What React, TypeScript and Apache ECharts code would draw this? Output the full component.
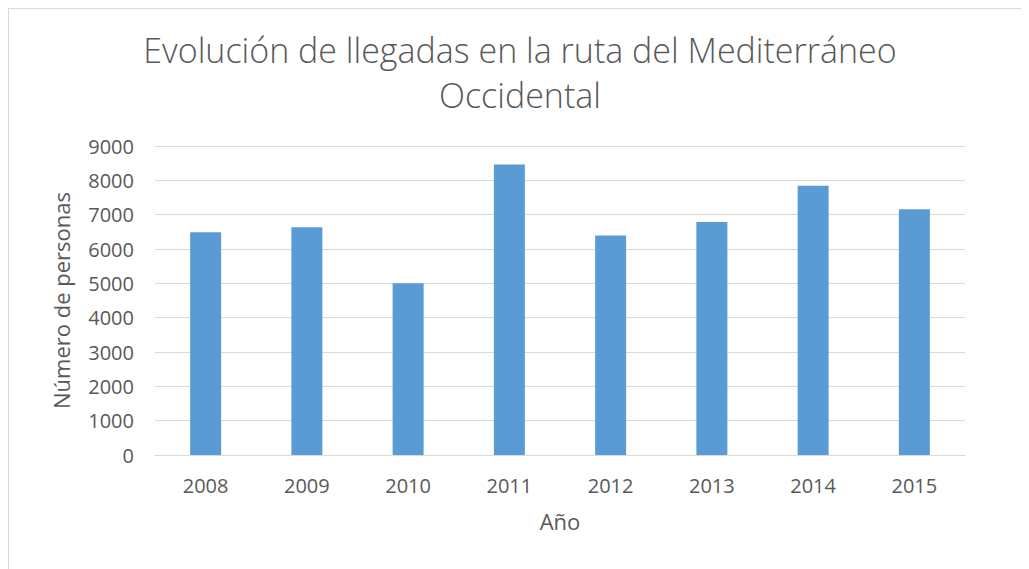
import React, { useEffect, useRef } from "react";
import * as echarts from "echarts";

const categories = ["2008", "2009", "2010", "2011", "2012", "2013", "2014", "2015"];
const arrivals = [6490, 6630, 5000, 8460, 6390, 6790, 7840, 7160];
const titleText = "Evolución de llegadas en la ruta del Mediterráneo\nOccidental";
const yAxisTitle = "Número de personas";
const xAxisTitle = "Año";

const FONT = "'Open Sans', 'Noto Sans', sans-serif";
const GREY_TEXT = "#595959";
const GRID_GREY = "#d9d9d9";

export default function App() {
  const ref = useRef<HTMLDivElement>(null);
  useEffect(() => {
    if (!ref.current) return;
    const chart = echarts.init(ref.current, undefined, { renderer: "svg" });
    chart.setOption({
      animation: false,
      backgroundColor: "#ffffff",
      textStyle: { fontFamily: FONT },
      title: {
        text: titleText,
        left: 507,
        top: 14,
        textAlign: "center",
        textStyle: {
          fontFamily: FONT,
          fontSize: 34,
          fontWeight: 300,
          color: GREY_TEXT,
          lineHeight: 45,
        },
      },
      graphic: [
        { type: "line", shape: { x1: 0.5, y1: 0, x2: 0.5, y2: 561 }, style: { stroke: GRID_GREY, lineWidth: 1 } },
        { type: "line", shape: { x1: 0, y1: 0.5, x2: 1021, y2: 0.5 }, style: { stroke: GRID_GREY, lineWidth: 1 } },
      ],
      grid: { left: 147, right: 64, top: 138, bottom: 114 },
      xAxis: {
        type: "category",
        data: categories,
        name: xAxisTitle,
        nameLocation: "middle",
        nameGap: 55,
        nameTextStyle: { fontSize: 22, color: GREY_TEXT, fontFamily: FONT },
        axisLine: { lineStyle: { color: GRID_GREY, width: 1 } },
        axisTick: { show: false },
        axisLabel: { color: GREY_TEXT, fontSize: 20, margin: 20, fontFamily: FONT },
      },
      yAxis: {
        type: "value",
        min: 0,
        max: 9000,
        interval: 1000,
        name: yAxisTitle,
        nameLocation: "middle",
        nameGap: 83,
        nameTextStyle: { fontSize: 22, color: GREY_TEXT, fontFamily: FONT },
        axisLine: { show: false },
        axisTick: { show: false },
        axisLabel: {
          color: GREY_TEXT,
          fontSize: 20,
          margin: 21,
          fontFamily: FONT,
          formatter: (v: number) => String(v),
        },
        splitLine: { lineStyle: { color: GRID_GREY, width: 1 } },
      },
      series: [
        {
          type: "bar",
          data: arrivals,
          barWidth: 31,
          itemStyle: { color: "#5b9bd5" },
        },
      ],
    });
    return () => chart.dispose();
  }, []);
  return <div ref={ref} style={{ width: 1021, height: 561 }} />;
}
